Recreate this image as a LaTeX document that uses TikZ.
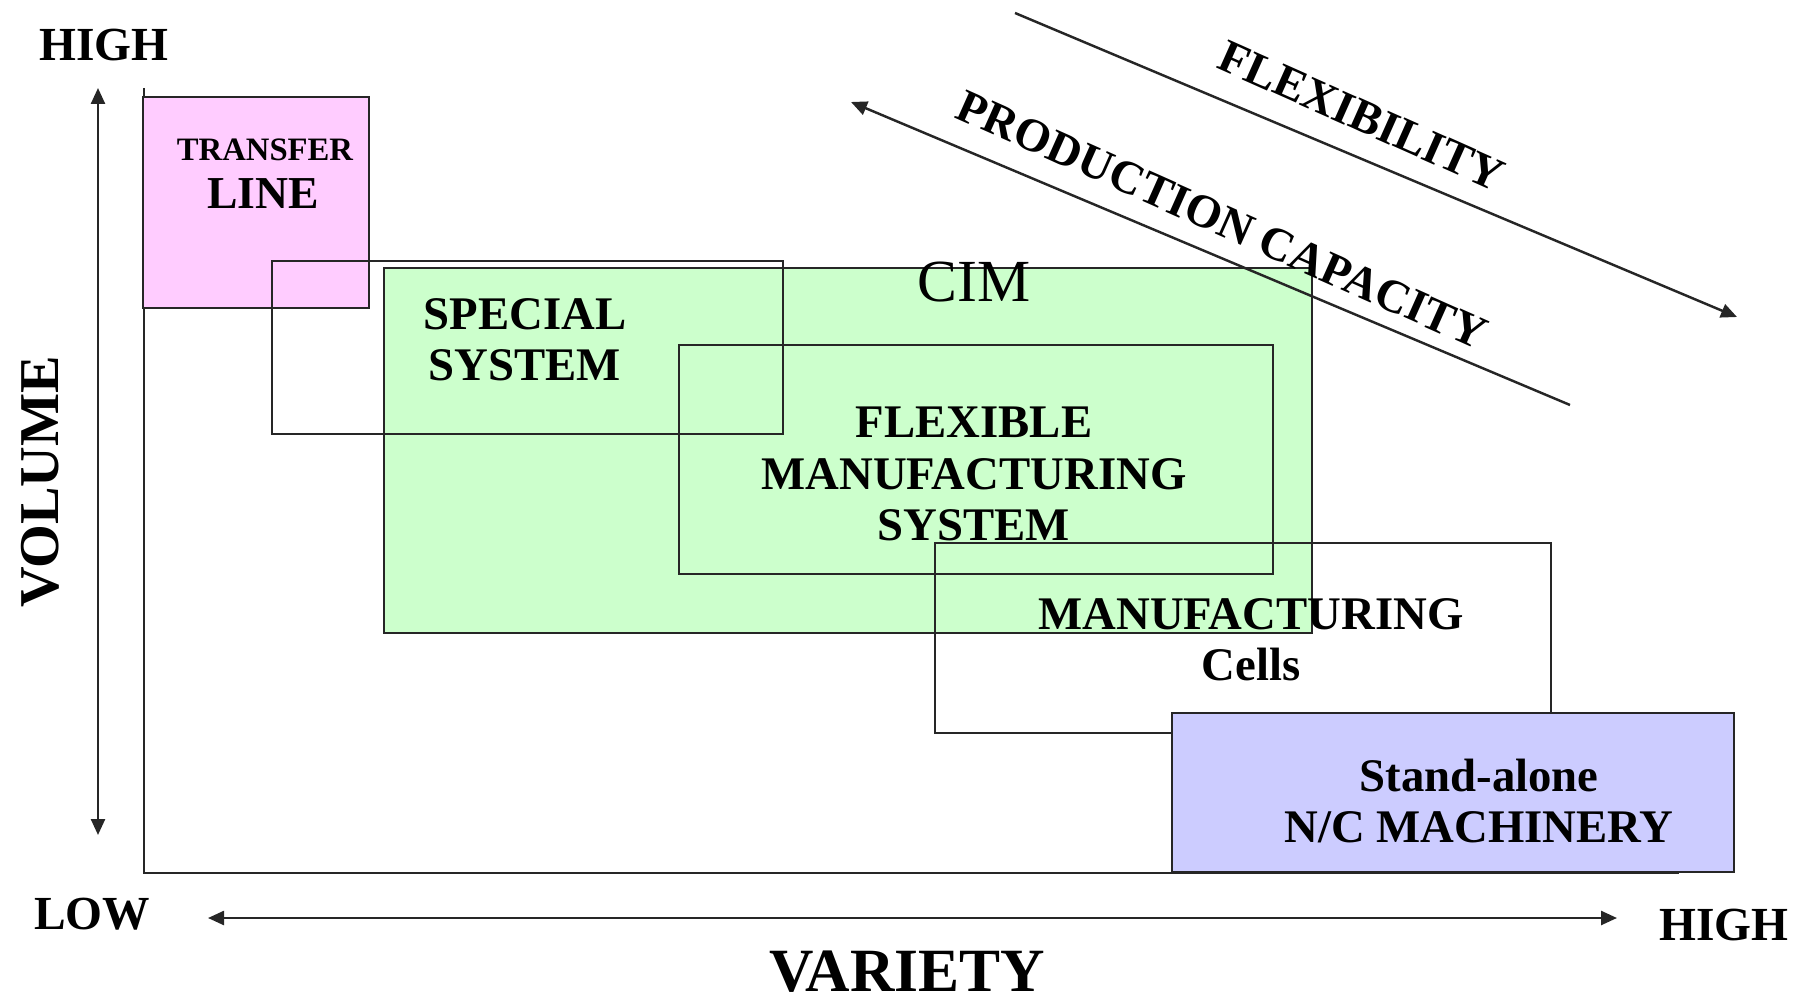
\documentclass[tikz,border=0pt]{standalone}
\usepackage{fontspec}
\setmainfont{Liberation Serif}
\usetikzlibrary{arrows.meta,positioning}
\definecolor{tlpink}{HTML}{FFCCFF}
\definecolor{cimgreen}{HTML}{CCFFCC}
\definecolor{ncblue}{HTML}{CCCCFF}
\begin{document}
\begin{tikzpicture}[x=0.1mm,y=-0.1mm,>={Triangle[length=1.6mm,width=1.4mm]},
    area/.style={draw=black!85,line width=0.6pt},
    axis/.style={draw=black!85,line width=0.7pt},
    lbl/.style={font=\bfseries\fontsize{13.3}{14.6}\selectfont,align=center,inner sep=0pt},
    axlbl/.style={font=\bfseries\fontsize{13.5}{15}\selectfont,inner sep=0pt}]
    \useasboundingbox (0,0) rectangle (1808,998);
    % axes
    \coordinate (org) at (144,873);
    \coordinate (ytop) at (144,88);
    \coordinate (xend) at (1679,873);
    \draw[axis] (ytop) -- (org) -- (xend);
    % regions
    \draw[area,fill=tlpink] (143,97) rectangle (369,308);
    \draw[area,fill=cimgreen] (384,268) rectangle (1312,633);
    \draw[area] (272,261) rectangle (783,434);
    \draw[area] (679,345) rectangle (1273,574);
    \draw[area] (935,543) rectangle (1551,733);
    \draw[area,fill=ncblue] (1172,713) rectangle (1734,872);
    % double arrows along the axes
    \coordinate (vtop) at (98,88);
    \coordinate (vbot) at (98,835);
    \coordinate (hleft) at (208,918);
    \coordinate (hright) at (1617,918);
    \draw[<->,axis] (vtop) -- (vbot);
    \draw[<->,axis] (hleft) -- (hright);
    % diagonal arrows
    \coordinate (flexa) at (1015,13);
    \coordinate (flexb) at (1737,317);
    \coordinate (proda) at (1570,405);
    \coordinate (prodb) at (851,102);
    \draw[->,axis] (flexa) -- (flexb);
    \draw[->,axis] (proda) -- (prodb);
    % labels
    \node[axlbl] (yhigh) at (104,45) {HIGH};
    \node[axlbl] (xlow) at (92,914) {LOW};
    \node[axlbl] (xhigh) at (1724,925) {HIGH};
    \node[font=\bfseries\fontsize{17.5}{19}\selectfont,inner sep=0pt] (variety) at (907,972) {VARIETY};
    \node[font=\bfseries\fontsize{16}{18}\selectfont,inner sep=0pt,rotate=90] (volume) at (40,482) {VOLUME};
    \node[lbl,rotate=-24] (flex) at (1362,116) {FLEXIBILITY};
    \node[lbl,rotate=-24] (prodcap) at (1222,220) {PRODUCTION CAPACITY};
    \node[lbl,font=\bfseries\fontsize{9.3}{11}\selectfont] (transfer) at (265,150) {TRANSFER};
    \node[lbl,font=\bfseries\fontsize{13}{14}\selectfont] (line) at (263,194) {LINE};
    \node[inner sep=0pt,font=\fontsize{17}{19}\selectfont] (cim) at (974,282) {CIM};
    \node[lbl] (special) at (525,340) {SPECIAL\\SYSTEM};
    \node[lbl] (fms) at (974,474) {FLEXIBLE\\MANUFACTURING\\SYSTEM};
    \node[lbl] (cells) at (1251,640) {MANUFACTURING\\Cells};
    \node[lbl] (nc) at (1479,801) {Stand-alone\\N/C MACHINERY};
\end{tikzpicture}
\end{document}
